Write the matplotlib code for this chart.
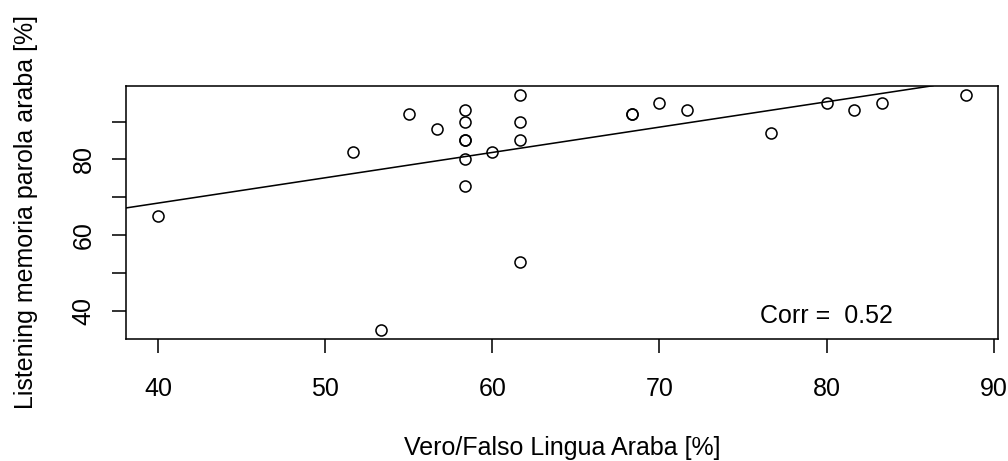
import numpy as np
import matplotlib.pyplot as plt

plt.rcParams['font.family'] = ['Liberation Sans', 'DejaVu Sans']

# Vero/Falso Lingua Araba [%] vs Listening memoria parola araba [%]
vf_araba = [40.00, 51.67, 53.33, 55.00, 56.67,
            58.33, 58.33, 58.33, 58.33, 58.33, 58.33,
            60.00, 61.67, 61.67, 61.67, 61.67,
            68.33, 68.33, 70.00, 71.67, 76.67,
            80.00, 81.67, 83.33, 88.33]
listening = [65, 82, 35, 92, 88,
             93, 90, 85, 85, 80, 73,
             82, 97, 90, 85, 53,
             92, 92, 95, 93, 87,
             95, 93, 95, 97]

x_ticks = [40, 50, 60, 70, 80, 90]
y_ticks = [40, 50, 60, 70, 80, 90]
y_tick_labels = ['40', '', '60', '', '80', '']

x = np.array(vf_araba)
y = np.array(listening)
slope, intercept = np.polyfit(x, y, 1)
corr = np.corrcoef(x, y)[0, 1]

fig = plt.figure(figsize=(1008 / 150, 461 / 150), dpi=150)
ax = fig.add_axes([126 / 1008, 1 - 339 / 461, 872 / 1008, 253.3 / 461])

ax.plot(x, y, 'o', mfc='none', mec='black', ms=5.3, mew=0.75)
ax.axline((0, intercept), slope=slope, color='black', lw=0.75)

# R-style 4% axis extension
xr = x.max() - x.min()
yr = y.max() - y.min()
ax.set_xlim(x.min() - 0.04 * xr, x.max() + 0.04 * xr)
ax.set_ylim(y.min() - 0.04 * yr, y.max() + 0.04 * yr)

ax.set_xticks(x_ticks)
ax.set_yticks(y_ticks)
ax.set_yticklabels(y_tick_labels, rotation=90, va='center')
ax.tick_params(axis='both', direction='out', length=6.7, width=0.75,
               labelsize=12, color='black')
ax.tick_params(axis='x', pad=11.5)
ax.tick_params(axis='y', pad=8)
for s in ax.spines.values():
    s.set_linewidth(0.75)
    s.set_color('black')

ax.text(80, 38.7, 'Corr =  %.2f' % corr, ha='center', va='center', fontsize=12)

ax.set_xlabel('Vero/Falso Lingua Araba [%]', fontsize=12)
ax.xaxis.set_label_coords(0.5, (339 - 455) / 253.3)
ax.xaxis.label.set_verticalalignment('baseline')
ax.set_ylabel('Listening memoria parola araba [%]', fontsize=12)
ax.yaxis.set_label_coords((33 - 126) / 872, 0.5)
ax.yaxis.label.set_verticalalignment('baseline')

fig.savefig('out.png', dpi=150)
